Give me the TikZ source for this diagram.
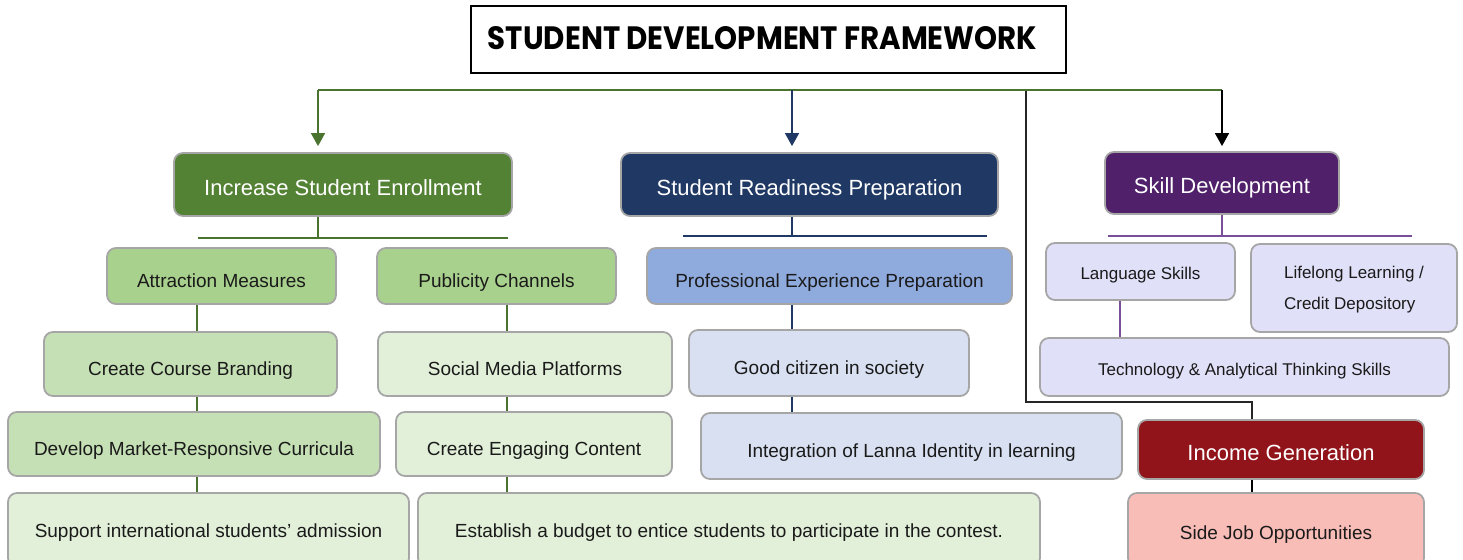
\documentclass[tikz,border=0pt]{standalone}
\usepackage{fontspec}
\setmainfont{Liberation Sans}
\newfontfamily\titlefont{Poppins}
\usepackage{graphicx}
\usepackage{xcolor}
\usepackage{tikz}
\usetikzlibrary{arrows.meta}

\definecolor{enrgreen}{HTML}{548235}
\definecolor{rdynavy}{HTML}{1F3864}
\definecolor{sklpurple}{HTML}{50206A}
\definecolor{incred}{HTML}{92141B}
\definecolor{midgreen}{HTML}{A9D18E}
\definecolor{softgreen}{HTML}{C5E0B4}
\definecolor{palegreen}{HTML}{E2F0D9}
\definecolor{midblue}{HTML}{8FAADC}
\definecolor{paleblue}{HTML}{D8E0F1}
\definecolor{lavender}{HTML}{E0E0F8}
\definecolor{salmon}{HTML}{F9BDB8}
\definecolor{boxgray}{HTML}{A6A6A6}
\definecolor{txtdark}{HTML}{1A1A1A}
\definecolor{lnkgreen}{HTML}{4A7330}
\definecolor{lnkpurple}{HTML}{7A4F9A}

\tikzset{
  cell/.style={draw=boxgray, line width=1.8pt, rounded corners=9pt, inner sep=0pt,
               align=center, text=txtdark, text height=22pt, text depth=0pt,
               font=\fontsize{19}{23}\selectfont},
  lvlone/.style={cell, text=white, text height=21pt, font=\fontsize{22}{26}\selectfont},
  lvlsmall/.style={cell, fill=lavender, text height=16pt, font=\fontsize{17}{31}\selectfont},
}

\begin{document}
\begin{tikzpicture}[x=1pt,y=-1pt]
\useasboundingbox (0,0) rectangle (1463,559);

\node[draw=black, line width=1.2pt, minimum width=595pt, minimum height=67pt, inner sep=0pt]
    (T) at (768.5,39.5) {\hspace*{-12pt}\raisebox{3pt}{\resizebox{549pt}{23pt}{\titlefont\bfseries STUDENT DEVELOPMENT FRAMEWORK}}};

\begin{scope}[every node/.style={lvlone}]
    \node[fill=enrgreen, minimum width=338pt, minimum height=63pt] (ENR) at (343,184.5) {Increase Student Enrollment};
    \node[fill=rdynavy, minimum width=377pt, minimum height=63pt] (RDY) at (809.5,184.5) {Student Readiness Preparation};
    \node[fill=sklpurple, minimum width=234pt, minimum height=62pt] (SKL) at (1222,183) {Skill Development};
    \node[fill=incred, minimum width=286pt, minimum height=59pt] (INC) at (1281,449.5) {Income Generation};
\end{scope}

\begin{scope}[every node/.style={cell}]
    \node[fill=midgreen, minimum width=229pt, minimum height=56pt] (ATT) at (221.5,276) {Attraction Measures};
    \node[fill=midgreen, minimum width=239pt, minimum height=56pt] (PUB) at (496.5,276) {Publicity Channels};
    \node[fill=softgreen, minimum width=293pt, minimum height=64pt] (CCB) at (190.5,364) {Create Course Branding};
    \node[fill=softgreen, minimum width=372pt, minimum height=64pt] (DMR) at (194,444) {Develop Market-Responsive Curricula};
    \node[fill=palegreen, minimum width=401pt, minimum height=74pt, text height=14pt] (SIS) at (208.5,530) {Support international students' admission};
    \node[fill=palegreen, minimum width=294pt, minimum height=64pt] (SMP) at (525,364) {Social Media Platforms};
    \node[fill=palegreen, minimum width=276pt, minimum height=64pt] (CEC) at (534,444) {Create Engaging Content};
    \node[fill=palegreen, minimum width=622pt, minimum height=74pt, text height=14pt] (EST) at (729,530) {Establish a budget to entice students to participate in the contest.};
    \node[fill=midblue, minimum width=365pt, minimum height=56pt] (PEP) at (829.5,276) {Professional Experience Preparation};
    \node[fill=paleblue, minimum width=280pt, minimum height=66pt] (GCS) at (829,363) {Good citizen in society};
    \node[fill=paleblue, minimum width=421pt, minimum height=66pt] (ILI) at (911.5,446) {Integration of Lanna Identity in learning};
    \node[fill=salmon, minimum width=296pt, minimum height=74pt, text height=18pt] (SJO) at (1276,530) {Side Job Opportunities};
\end{scope}

\begin{scope}[every node/.style={lvlsmall}]
    \node[minimum width=189pt, minimum height=57pt] (LNG) at (1140.5,271.5) {Language Skills};
    \node[minimum width=206pt, minimum height=88pt, align=left, text height={}, text depth={}]
        (LLL) at (1354,288) {\raisebox{-10pt}{\begin{tabular}{@{}l@{}}Lifelong Learning /\\Credit Depository\end{tabular}}};
    \node[minimum width=409pt, minimum height=58pt] (TAT) at (1244.5,367) {Technology \& Analytical Thinking Skills};
\end{scope}

% branch points
\coordinate (gL) at (318,90);
\coordinate (gM) at (792,90);
\coordinate (gR) at (1222,90);
\coordinate (kT) at (1026,90);
\coordinate (kB) at (1252,402);
\coordinate (eL) at (198,238);
\coordinate (eR) at (508,238);
\coordinate (rL) at (683,236);
\coordinate (rR) at (987,236);
\coordinate (sL) at (1108,236);
\coordinate (sR) at (1412,236);
\coordinate (cA) at (197,0);
\coordinate (cP) at (507,0);
\coordinate (cR) at (792,0);
\coordinate (cS) at (1120,0);

\draw[black!85, line width=1.5pt] (kT) |- (kB) -- (INC.north -| kB);

\begin{scope}[>={Triangle[length=13pt,width=14pt]},
              every edge/.style={draw=lnkgreen, line width=1.5pt}]
    \path (gL) edge (gR);
    \path [->] (gL) edge[shorten >=6pt] (ENR.north -| gL);
    \path (ENR.south -| gL) edge (gL |- eL);
    \path (eL) edge (eR);
    \path (ATT.south -| cA) edge (CCB.north -| cA);
    \path (CCB.south -| cA) edge (DMR.north -| cA);
    \path (DMR.south -| cA) edge (SIS.north -| cA);
    \path (PUB.south -| cP) edge (SMP.north -| cP);
    \path (SMP.south -| cP) edge (CEC.north -| cP);
    \path (CEC.south -| cP) edge (EST.north -| cP);
\end{scope}

\begin{scope}[>={Triangle[length=13pt,width=14pt]},
              every edge/.style={draw=rdynavy, line width=1.5pt}]
    \path [->] (gM) edge[shorten >=6pt] (RDY.north -| gM);
    \path (RDY.south -| cR) edge (cR |- rL);
    \path (rL) edge (rR);
    \path (PEP.south -| cR) edge (GCS.north -| cR);
    \path (GCS.south -| cR) edge (ILI.north -| cR);
\end{scope}

\begin{scope}[every edge/.style={draw=lnkpurple, line width=1.5pt}]
    \path (SKL.south) edge (SKL.south |- sL);
    \path (sL) edge (sR);
    \path (LNG.south -| cS) edge (TAT.north -| cS);
\end{scope}

\begin{scope}[>={Triangle[length=13pt,width=14pt]},
              every edge/.style={draw=black, line width=1.5pt}]
    \path [->] (gR) edge[shorten >=5pt] (SKL.north);
    \path (INC.south -| kB) edge (SJO.north -| kB);
\end{scope}
\end{tikzpicture}
\end{document}
